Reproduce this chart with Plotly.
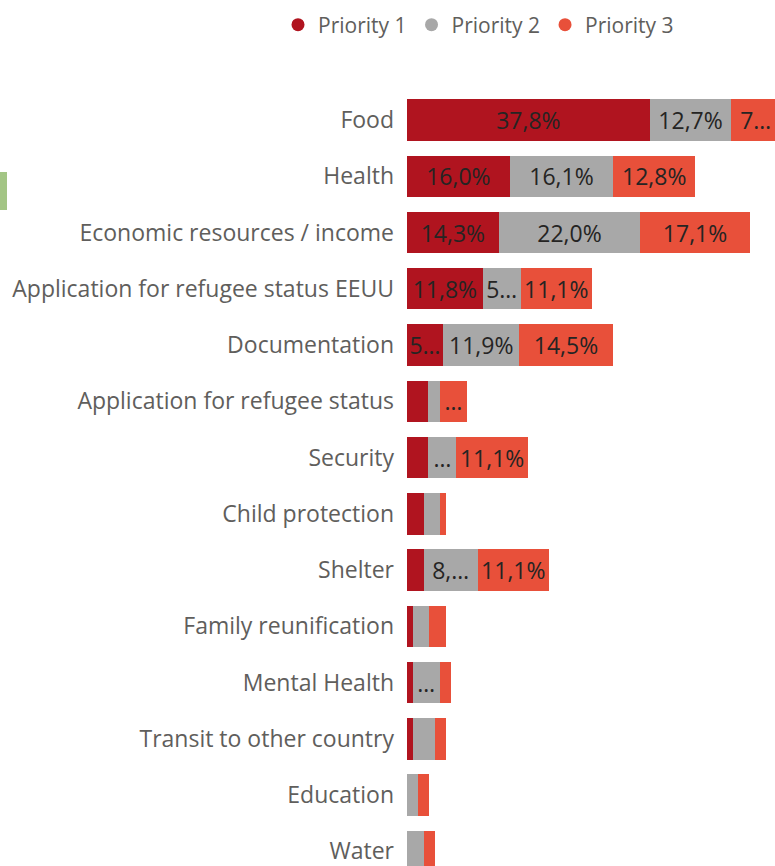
import plotly.graph_objects as go

# Top needs, share of responses by priority level (%)
categories = [
    "Food",
    "Health",
    "Economic resources / income",
    "Application for refugee status EEUU",
    "Documentation",
    "Application for refugee status",
    "Security",
    "Child protection",
    "Shelter",
    "Family reunification",
    "Mental Health",
    "Transit to other country",
    "Education",
    "Water",
]
priority_1 = [37.8, 16.0, 14.3, 11.8, 5.6, 3.3, 3.3, 2.6, 2.6, 0.9, 0.9, 0.9, 0.0, 0.0]
priority_2 = [12.7, 16.1, 22.0, 5.9, 11.9, 1.8, 4.4, 2.5, 8.4, 2.6, 4.2, 3.4, 1.7, 2.6]
priority_3 = [7.6, 12.8, 17.1, 11.1, 14.5, 4.3, 11.1, 0.9, 11.1, 2.5, 1.8, 1.7, 1.8, 1.7]

series_names = ["Priority 1", "Priority 2", "Priority 3"]
series_colors = ["#B0141F", "#A8A8A8", "#E8503A"]

FIG_W, FIG_H = 775, 866
MARGIN_L, MARGIN_T = 407, 70
PLOT_W, PLOT_H = FIG_W - MARGIN_L, FIG_H - MARGIN_T
X_MAX = 57.3
PX_PER_UNIT = PLOT_W / X_MAX
ROW_PX = 56.26
FIRST_ROW_Y = 120
FONT = "Segoe UI, Open Sans, sans-serif"
LABEL_SIZE = 23

# rough glyph widths (px) at LABEL_SIZE, used to shorten labels that do not fit
GLYPH = {",": 9, "%": 15, "…": 14}


def text_w(s):
    return sum(GLYPH.get(c, 13) for c in s)


def fit_label(value, start):
    if value <= 0:
        return ""
    visible = (min(start + value, X_MAX) - start) * PX_PER_UNIT
    avail = visible - 8
    full = f"{value:.1f}".replace(".", ",") + "%"
    if text_w(full) <= avail:
        return full
    for n in range(len(full) - 1, -1, -1):
        cand = full[:n] + "…"
        if text_w(cand) <= avail:
            return cand
    return ""


fig = go.Figure()
starts = [0.0] * len(categories)
for name, color, vals in zip(series_names, series_colors, [priority_1, priority_2, priority_3]):
    labels = [fit_label(v, s) for v, s in zip(vals, starts)]
    fig.add_trace(go.Bar(
        y=categories, x=vals, orientation="h", name=name,
        marker=dict(color=color, line=dict(width=0)),
        text=labels, textposition="inside", insidetextanchor="middle",
        textangle=0, constraintext="none",
        textfont=dict(family=FONT, size=LABEL_SIZE, color="#252423"),
        showlegend=False, hoverinfo="skip",
    ))
    # round legend markers
    fig.add_trace(go.Scatter(
        x=[None], y=[None], mode="markers", name=name,
        marker=dict(color=color, size=13, symbol="circle"),
    ))
    starts = [s + v for s, v in zip(starts, vals)]

y_top = -(FIRST_ROW_Y - MARGIN_T) / ROW_PX
y_bottom = (FIG_H - FIRST_ROW_Y) / ROW_PX

fig.update_layout(
    width=FIG_W, height=FIG_H,
    margin=dict(l=MARGIN_L, r=0, t=MARGIN_T, b=0, autoexpand=False),
    barmode="stack", bargap=0.264,
    plot_bgcolor="white", paper_bgcolor="white",
    font=dict(family=FONT, color="#605E5C"),
    uniformtext=dict(mode="show", minsize=LABEL_SIZE),
    xaxis=dict(range=[0, X_MAX], visible=False, fixedrange=True),
    yaxis=dict(
        range=[y_bottom, y_top],
        showgrid=False, zeroline=False, showline=False, ticks="",
        tickfont=dict(size=23, color="#605E5C"), ticklabelstandoff=12,
        automargin=False,
    ),
    legend=dict(
        orientation="h", traceorder="normal",
        x=(278 - MARGIN_L) / PLOT_W, xanchor="left",
        y=1 + (MARGIN_T - 25) / PLOT_H, yanchor="middle",
        font=dict(size=21, color="#605E5C"), itemwidth=30, tracegroupgap=0,
    ),
    shapes=[dict(
        type="rect", xref="paper", yref="paper",
        x0=-MARGIN_L / PLOT_W, x1=(7 - MARGIN_L) / PLOT_W,
        y0=1 - (210 - MARGIN_T) / PLOT_H, y1=1 - (172 - MARGIN_T) / PLOT_H,
        fillcolor="#A3C585", line=dict(width=0), layer="above",
    )],
)

fig.write_html("out.html")
